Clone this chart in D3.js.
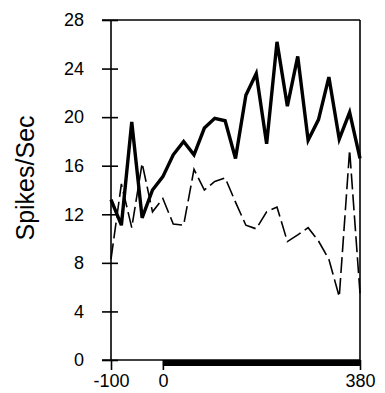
<!DOCTYPE html>
<html>
<head>
<meta charset="utf-8">
<script src="https://cdn.jsdelivr.net/npm/d3@7"></script>
<style>
  body { margin: 0; background: #fff; }
  text { font-family: "Liberation Sans", Arial, Helvetica, sans-serif; fill: #000; }
</style>
</head>
<body>
<div id="chart"></div>
<script>
// time (ms) relative to stimulus onset, 20 ms bins
const times = [-100, -80, -60, -40, -20, 0, 20, 40, 60, 80, 100, 120, 140, 160, 180,
  200, 220, 240, 260, 280, 300, 320, 340, 360, 380];
const solidRates = [13.2, 11.1, 19.6, 11.7, 14.0, 15.1, 16.9, 18.0, 16.9, 19.1, 19.9, 19.7, 16.6, 21.8, 23.6,
  17.8, 26.2, 20.9, 25.0, 18.1, 19.8, 23.3, 18.2, 20.4, 16.6];
const dashedRates = [8.3, 14.5, 10.9, 16.2, 12.2, 13.3, 11.2, 11.1, 15.7, 14.0, 14.7, 15.0, 13.0, 11.1, 10.8,
  12.2, 12.6, 9.75, 10.3, 10.9, 9.8, 8.3, 5.2, 17.3, 5.5];
const yTicks = [0, 4, 8, 12, 16, 20, 24, 28];
const xTicks = [-100, 0, 380];
const stimulus = [0, 380];

const width = 385, height = 393;
const margin = {top: 20, right: 25, bottom: 33, left: 111};

const svg = d3.select("#chart").append("svg")
  .attr("width", width)
  .attr("height", height);

const x = d3.scaleLinear().domain([-100, 380]).range([margin.left, width - margin.right]);
const y = d3.scaleLinear().domain([0, 28]).range([height - margin.bottom, margin.top]);

// y axis with ticks crossing the line
const yAxis = svg.append("g")
  .attr("transform", "translate(" + x(-100) + ",0)")
  .call(d3.axisLeft(y).tickValues(yTicks).tickSize(9).tickPadding(18));
yAxis.select(".domain").remove();
yAxis.selectAll(".tick line").attr("x1", 7).attr("x2", -9).attr("stroke-width", 1.6);
yAxis.selectAll(".tick text").style("font-size", "18px");
yAxis.append("line")
  .attr("x1", 0).attr("x2", 0)
  .attr("y1", y(0)).attr("y2", y(28))
  .attr("stroke", "#000").attr("stroke-width", 1.6);

// x axis
const xAxis = svg.append("g")
  .attr("transform", "translate(0," + y(0) + ")")
  .call(d3.axisBottom(x).tickValues(xTicks).tickSize(10).tickPadding(4)
    .tickFormat(d => String(d)));
xAxis.select(".domain").remove();
xAxis.selectAll(".tick line").attr("stroke-width", 1.6);
xAxis.selectAll(".tick text").style("font-size", "18px");
xAxis.append("line")
  .attr("x1", x(-100) - 9).attr("x2", x(380))
  .attr("stroke", "#000").attr("stroke-width", 1.6);

// top frame and right edge
svg.append("line")
  .attr("x1", x(-100) - 9).attr("x2", x(380))
  .attr("y1", y(28)).attr("y2", y(28))
  .attr("stroke", "#000").attr("stroke-width", 1.6);
svg.append("line")
  .attr("x1", x(380)).attr("x2", x(380))
  .attr("y1", y(28)).attr("y2", y(0))
  .attr("stroke", "#000").attr("stroke-width", 1.6);

// stimulus bar
svg.append("rect")
  .attr("x", x(stimulus[0]))
  .attr("y", y(0))
  .attr("width", x(stimulus[1]) - x(stimulus[0]))
  .attr("height", 6)
  .attr("fill", "#000");

const line = d3.line()
  .x((d, i) => x(times[i]))
  .y(d => y(d));

svg.append("path")
  .datum(dashedRates)
  .attr("d", line)
  .attr("fill", "none")
  .attr("stroke", "#000")
  .attr("stroke-width", 1.6)
  .attr("stroke-dasharray", "16,5");

svg.append("path")
  .datum(solidRates)
  .attr("d", line)
  .attr("fill", "none")
  .attr("stroke", "#000")
  .attr("stroke-width", 3.4)
  .attr("stroke-linejoin", "miter");

svg.append("text")
  .attr("transform", "translate(34,178) rotate(-90)")
  .attr("text-anchor", "middle")
  .style("font-size", "25px")
  .text("Spikes/Sec");
</script>
</body>
</html>
